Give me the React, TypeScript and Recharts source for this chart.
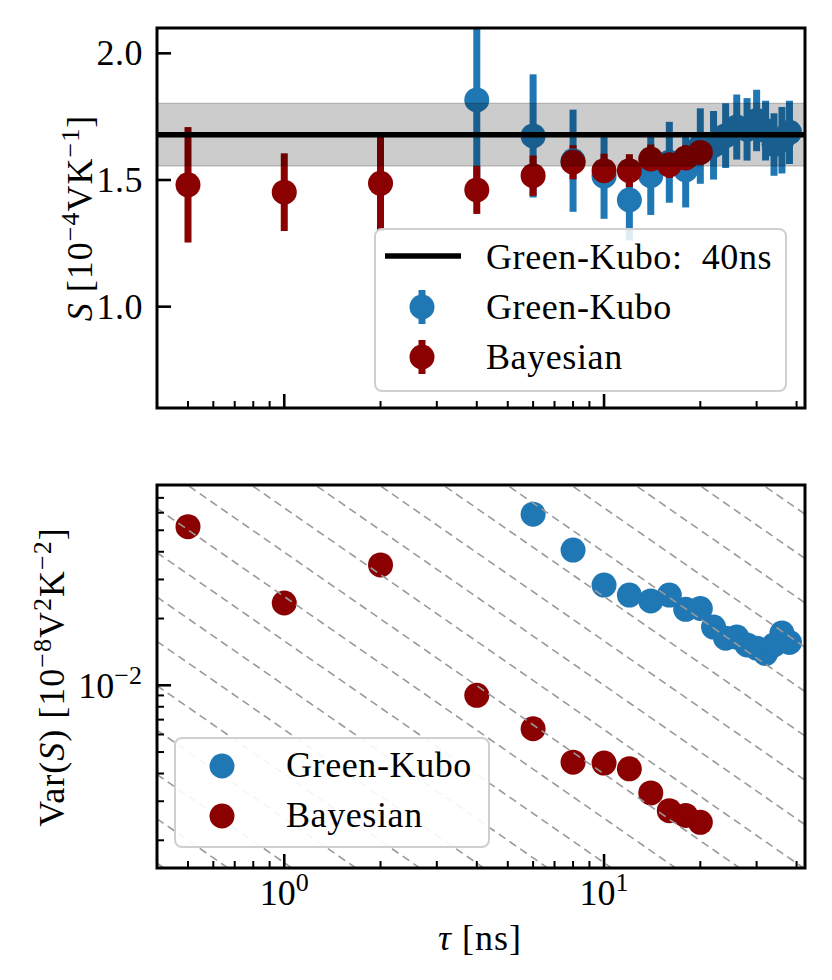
import React from "react";
import {
  ComposedChart,
  Scatter,
  XAxis,
  YAxis,
  ErrorBar,
  ReferenceArea,
  ReferenceLine,
  Legend,
} from "recharts";

const FONT = "'Liberation Serif', 'Times New Roman', serif";
const BLUE = "#1f77b4";
const RED = "#8b0000";

// Green-Kubo estimates
const gkTau = [4, 6, 8, 10, 12, 14, 16, 18, 20, 22, 24, 26, 28, 30, 32, 34, 36, 38];
const gkS = [1.816, 1.674, 1.576, 1.515, 1.421, 1.517, 1.57, 1.54, 1.634, 1.637, 1.675, 1.709, 1.7, 1.735, 1.695, 1.64, 1.657, 1.688];
const gkVar = [0.105, 0.0591, 0.0407, 0.0283, 0.0255, 0.024, 0.0255, 0.022, 0.0222, 0.0183, 0.0163, 0.0165, 0.0152, 0.0147, 0.0139, 0.0152, 0.0172, 0.0156];

// Bayesian estimates
const bayTau = [0.5, 1, 2, 4, 6, 8, 10, 12, 14, 16, 18, 20];
const bayS = [1.481, 1.452, 1.487, 1.461, 1.517, 1.57, 1.537, 1.537, 1.583, 1.56, 1.587, 1.609];
const bayVar = [0.0519, 0.0235, 0.0349, 0.00901, 0.00637, 0.0045, 0.00446, 0.0042, 0.00327, 0.00272, 0.00259, 0.00241];

// long run reference (40 ns)
const refS = 1.679;
const refErr = 0.124;

// guide lines Var = c / tau, c = 10^(k/5)
const guideExp = [-17, -16, -15, -14, -13, -12, -11, -10, -9, -8, -7, -6, -5, -4, -3, -2, -1, 0, 1, 2, 3];

const xDomain = [0.4, 42.5];
const sDomain = [0.6, 2.1];
const vDomain = [0.0015, 0.08];
const xMajor = [1, 10];
const xTicks = [0.4, 0.5, 0.6, 0.7, 0.8, 0.9, 1, 2, 3, 4, 5, 6, 7, 8, 9, 10, 20, 30, 40];
const sTicks = [1.0, 1.5, 2.0];
const vMajor = [0.01];
const vTicks = [0.002, 0.003, 0.004, 0.005, 0.006, 0.007, 0.008, 0.009, 0.01, 0.02, 0.03, 0.04, 0.05, 0.06, 0.07, 0.08];

// error bar = sqrt(var), clipped to the visible S range
const toRow = (t, s, v) => {
  const e = Math.sqrt(v);
  return { tau: t, s, v, err: [Math.min(e, s - sDomain[0]), Math.min(e, sDomain[1] - s)] };
};
const gkData = gkTau.map((t, i) => toRow(t, gkS[i], gkVar[i]));
const bayData = bayTau.map((t, i) => toRow(t, bayS[i], bayVar[i]));
const refLine = xDomain.map((t) => ({ tau: t, s: refS }));

const W = 832;
const PLOT_L = 157;
const PLOT_R = 805;
const TOP_H = 440;
const TOP_BOTTOM = 408;
const BOT_H = 540;
const BOT_BOTTOM = 428;

const dot = (color) => (p) => <circle cx={p.cx} cy={p.cy} r={12.5} fill={color} />;
const noDot = () => null;

const XTick = ({ x, payload, bottom, labels }) => {
  const major = xMajor.includes(payload.value);
  return (
    <g>
      <line x1={x} x2={x} y1={bottom} y2={bottom - (major ? 14 : 7)} stroke="#000" strokeWidth={major ? 2.6 : 2} />
      {labels && major && (
        <text x={x} y={bottom + 37} textAnchor="middle" fontFamily={FONT} fontSize={36} fill="#000">
          10
          <tspan dy={-14} fontSize={26}>{Math.round(Math.log10(payload.value))}</tspan>
        </text>
      )}
    </g>
  );
};

const STick = ({ y, payload }) => (
  <g>
    <line x1={PLOT_L} x2={PLOT_L + 14} y1={y} y2={y} stroke="#000" strokeWidth={2.6} />
    <text x={143} y={y + 12} textAnchor="end" fontFamily={FONT} fontSize={36} fill="#000" letterSpacing={0.5}>
      {payload.value.toFixed(1)}
    </text>
  </g>
);

const VTick = ({ y, payload }) => {
  const major = vMajor.includes(payload.value);
  return (
    <g>
      <line x1={PLOT_L} x2={PLOT_L + (major ? 14 : 7)} y1={y} y2={y} stroke="#000" strokeWidth={major ? 2.6 : 2} />
      {major && (
        <text x={142} y={y + 13} textAnchor="end" fontFamily={FONT} fontSize={36} fill="#000">
          10
          <tspan dy={-14} fontSize={26}>−2</tspan>
        </text>
      )}
    </g>
  );
};

const labelText = { fontFamily: FONT, fontSize: 36, fill: "#000", letterSpacing: 1 };

const TopYLabel = () => (
  <text transform="rotate(-90 92 218)" x={92} y={218} textAnchor="middle" {...labelText}>
    <tspan fontStyle="italic">S</tspan>
    <tspan>{"\u00a0[10"}</tspan>
    <tspan dy={-13} fontSize={26}>−4</tspan>
    <tspan dy={13}>VK</tspan>
    <tspan dy={-13} fontSize={26}>−1</tspan>
    <tspan dy={13}>]</tspan>
  </text>
);

const BotYLabel = () => (
  <text transform="rotate(-90 64 237)" x={64} y={237} textAnchor="middle" {...labelText}>
    <tspan>Var(</tspan>
    <tspan fontStyle="italic">S</tspan>
    <tspan>{")\u00a0[10"}</tspan>
    <tspan dy={-13} fontSize={26}>−8</tspan>
    <tspan dy={13}>V</tspan>
    <tspan dy={-13} fontSize={26}>2</tspan>
    <tspan dy={13}>K</tspan>
    <tspan dy={-13} fontSize={26}>−2</tspan>
    <tspan dy={13}>]</tspan>
  </text>
);

const XLabel = () => (
  <text x={480} y={510} textAnchor="middle" {...labelText}>
    <tspan fontStyle="italic">τ</tspan>
    <tspan>{"\u00a0[ns]"}</tspan>
  </text>
);

const legendText = { fontFamily: FONT, fontSize: 36, fill: "#000", letterSpacing: 0.6 };

const TopLegend = () => (
  <svg width={414} height={165}>
    <rect x={1} y={1} width={411} height={162} rx={7} fill="#fff" fillOpacity={0.85} stroke="#cfcfcf" strokeWidth={2} />
    <line x1={11} x2={87} y1={28} y2={28} stroke="#000" strokeWidth={5.5} />
    <text x={112} y={41} {...legendText}>{"Green-Kubo:\u00a0 40ns"}</text>
    <line x1={48} x2={48} y1={62} y2={96} stroke={BLUE} strokeWidth={7} />
    <circle cx={48} cy={79} r={12.5} fill={BLUE} />
    <text x={112} y={91} {...legendText}>Green-Kubo</text>
    <line x1={48} x2={48} y1={112} y2={146} stroke={RED} strokeWidth={7} />
    <circle cx={48} cy={129} r={12.5} fill={RED} />
    <text x={112} y={141} {...legendText}>Bayesian</text>
  </svg>
);

const BotLegend = () => (
  <svg width={317} height={112}>
    <rect x={1} y={1} width={314} height={109} rx={7} fill="#fff" fillOpacity={0.9} stroke="#cfcfcf" strokeWidth={2} />
    <circle cx={48} cy={29} r={12.5} fill={BLUE} />
    <text x={112} y={40} {...legendText}>Green-Kubo</text>
    <circle cx={48} cy={79} r={12.5} fill={RED} />
    <text x={112} y={90} {...legendText}>Bayesian</text>
  </svg>
);

export default function App() {
  return (
    <div style={{ position: "relative", width: W, height: 980, margin: -8, background: "#fff" }}>
      <div style={{ position: "absolute", left: 0, top: 0 }}>
        <ComposedChart width={W} height={TOP_H} margin={{ top: 28, right: W - PLOT_R, bottom: 0, left: 0 }}>
          <XAxis
            dataKey="tau"
            type="number"
            scale="log"
            domain={xDomain}
            allowDataOverflow
            ticks={xTicks}
            interval={0}
            height={TOP_H - TOP_BOTTOM}
            axisLine={false}
            tickLine={false}
            tick={<XTick bottom={TOP_BOTTOM} labels={false} />}
          />
          <YAxis
            dataKey="s"
            type="number"
            domain={sDomain}
            allowDataOverflow
            ticks={sTicks}
            interval={0}
            width={PLOT_L}
            axisLine={false}
            tickLine={false}
            tick={<STick />}
            label={<TopYLabel />}
          />
          <Scatter data={gkData} fill={BLUE} shape={dot(BLUE)} isAnimationActive={false}>
            <ErrorBar dataKey="err" direction="y" width={0} stroke={BLUE} strokeWidth={7} isAnimationActive={false} />
          </Scatter>
          <Scatter data={bayData} fill={RED} shape={dot(RED)} isAnimationActive={false}>
            <ErrorBar dataKey="err" direction="y" width={0} stroke={RED} strokeWidth={7} isAnimationActive={false} />
          </Scatter>
          <ReferenceArea
            y1={refS - refErr}
            y2={refS + refErr}
            fill="#000"
            fillOpacity={0.2}
            stroke="#000"
            strokeOpacity={0.25}
            strokeWidth={1}
            ifOverflow="hidden"
            zIndex={650}
          />
          <Scatter
            data={refLine}
            shape={noDot}
            line={{ stroke: "#000", strokeWidth: 5.5 }}
            isAnimationActive={false}
          />
          <ReferenceArea
            x1={xDomain[0]}
            x2={xDomain[1]}
            y1={sDomain[0]}
            y2={sDomain[1]}
            fill="none"
            stroke="#000"
            strokeWidth={3}
            ifOverflow="visible"
            zIndex={800}
          />
          <Legend
            layout="vertical"
            align="center"
            verticalAlign="middle"
            content={() => <TopLegend />}
            wrapperStyle={{ position: "absolute", left: 374, top: 228, width: 414, height: 165 }}
          />
        </ComposedChart>
      </div>
      <div style={{ position: "absolute", left: 0, top: TOP_H }}>
        <ComposedChart width={W} height={BOT_H} margin={{ top: 45, right: W - PLOT_R, bottom: 0, left: 0 }}>
          <XAxis
            dataKey="tau"
            type="number"
            scale="log"
            domain={xDomain}
            allowDataOverflow
            ticks={xTicks}
            interval={0}
            height={BOT_H - BOT_BOTTOM}
            axisLine={false}
            tickLine={false}
            tick={<XTick bottom={BOT_BOTTOM} labels={true} />}
            label={<XLabel />}
          />
          <YAxis
            dataKey="v"
            type="number"
            scale="log"
            domain={vDomain}
            allowDataOverflow
            ticks={vTicks}
            interval={0}
            width={PLOT_L}
            axisLine={false}
            tickLine={false}
            tick={<VTick />}
            label={<BotYLabel />}
          />
          <Scatter data={gkData} fill={BLUE} shape={dot(BLUE)} isAnimationActive={false} />
          <Scatter data={bayData} fill={RED} shape={dot(RED)} isAnimationActive={false} />
          {guideExp.map((k) => {
            const c = Math.pow(10, k / 5);
            return (
              <Scatter
                key={k}
                data={xDomain.map((t) => ({ tau: t, v: c / t }))}
                shape={noDot}
                line={{ stroke: "#9a9a9a", strokeWidth: 1.6, strokeDasharray: "8 5" }}
                isAnimationActive={false}
              />
            );
          })}
          <ReferenceArea
            x1={xDomain[0]}
            x2={xDomain[1]}
            y1={vDomain[0]}
            y2={vDomain[1]}
            fill="none"
            stroke="#000"
            strokeWidth={3}
            ifOverflow="visible"
            zIndex={800}
          />
          <Legend
            layout="vertical"
            align="center"
            verticalAlign="middle"
            content={() => <BotLegend />}
            wrapperStyle={{ position: "absolute", left: 174, top: 297, width: 317, height: 112 }}
          />
        </ComposedChart>
      </div>
    </div>
  );
}
